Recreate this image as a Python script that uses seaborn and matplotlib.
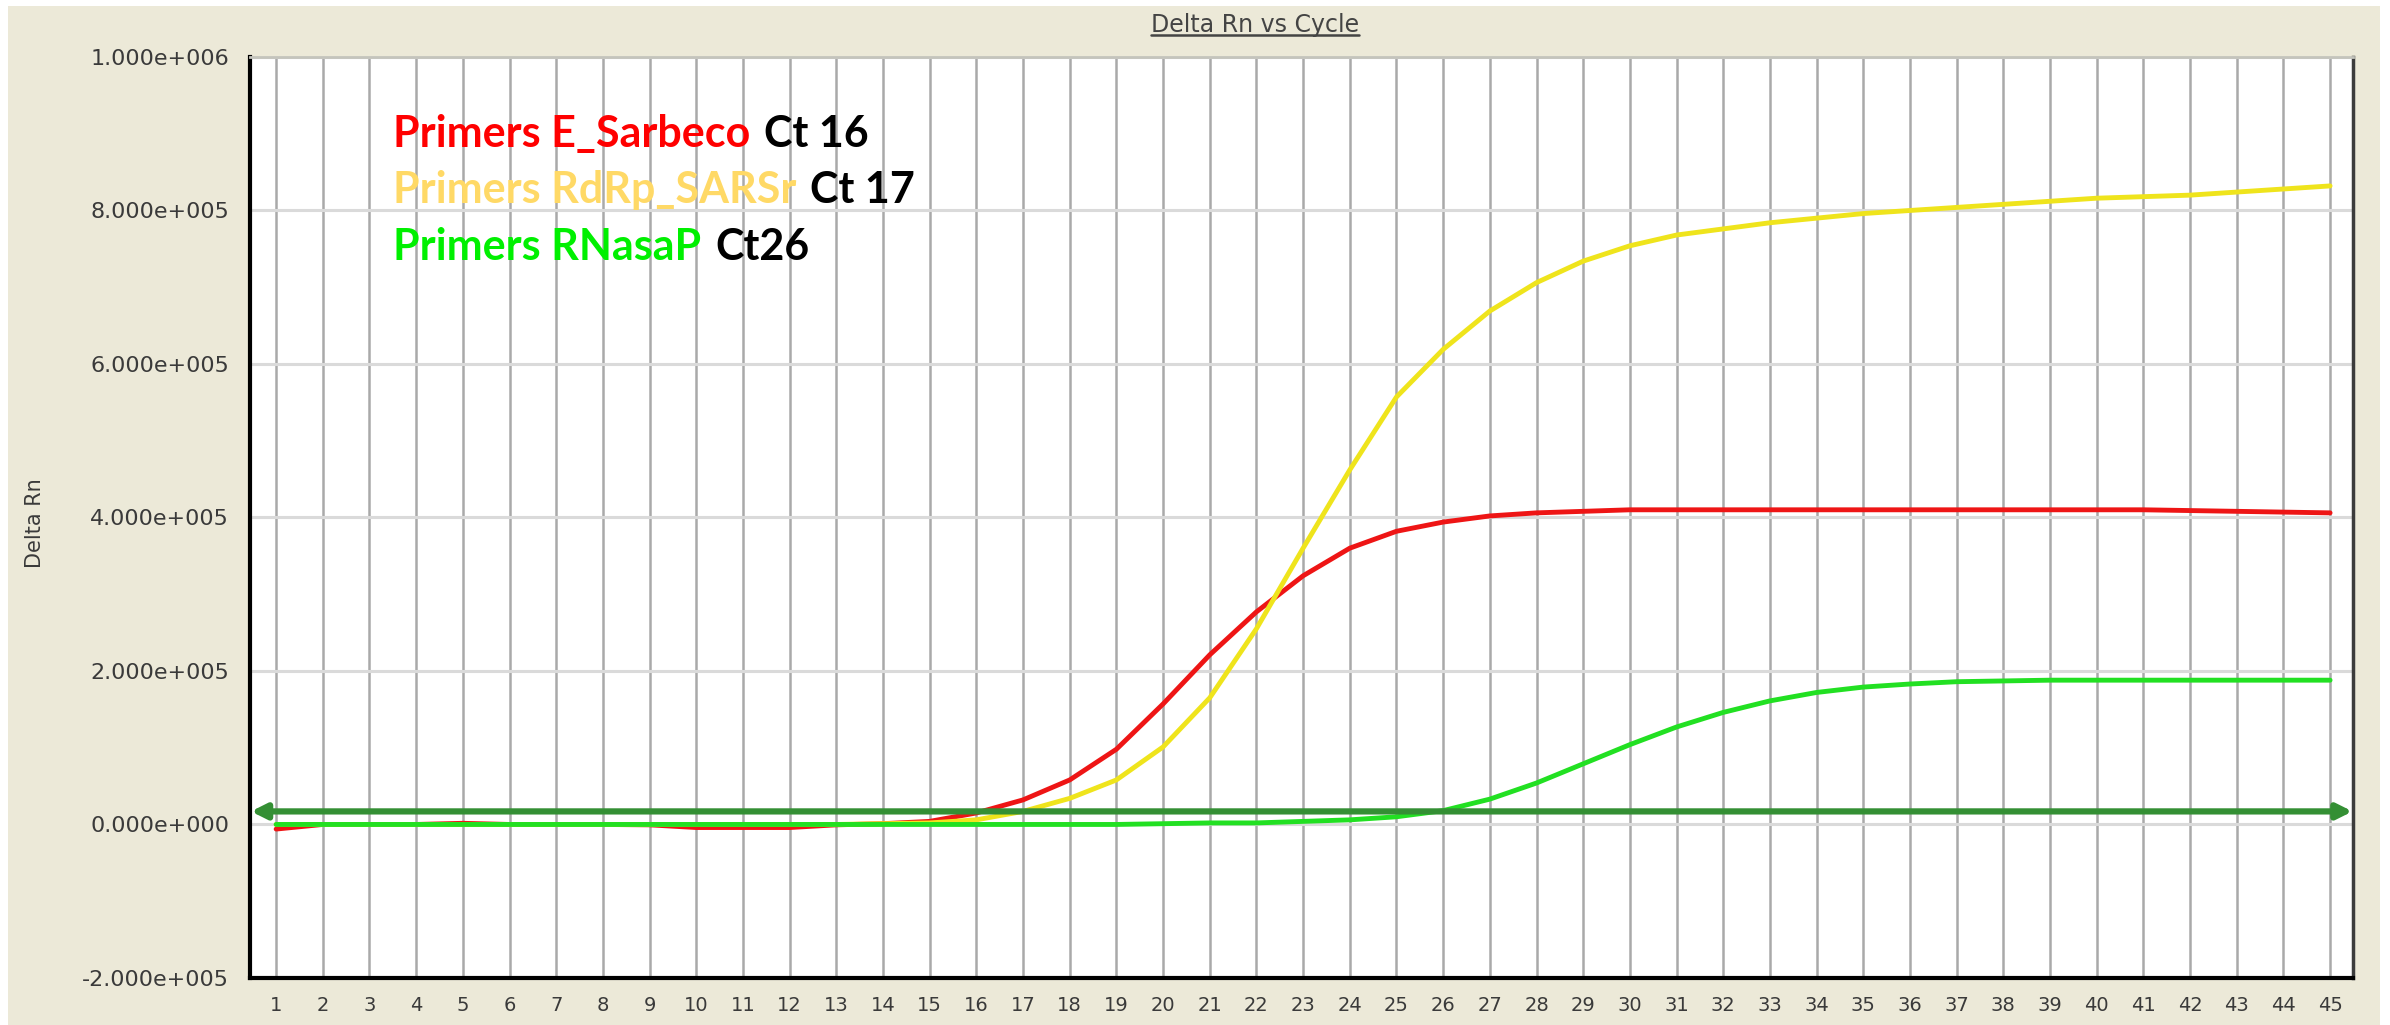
import numpy as np
import pandas as pd
import matplotlib
matplotlib.use("Agg")
import matplotlib.pyplot as plt
from matplotlib.patches import Rectangle
from matplotlib.lines import Line2D
from matplotlib.ticker import FuncFormatter
import seaborn as sns

# data
cycles = list(range(1, 46))
e_sarbeco = [-6000, 0, 0, 0, 1500, 0, 0, 0, -500, -4000, -4000, -4000, -500, 1000, 4000,
             15000, 32000, 58000, 98000, 157000, 221000, 277000, 324000, 360000, 382000,
             394000, 402000, 406000, 408000, 410000, 410000, 410000, 410000, 410000, 410000,
             410000, 410000, 410000, 410000, 410000, 410000, 409000, 408000, 407000, 406000]
rdrp_sarsr = [0, 0, 0, 0, 0, 0, 0, 0, 0, 0, 0, 0, 0, 1000, 2000,
              6000, 17000, 34000, 58000, 101000, 165000, 255000, 360000, 462000, 557000,
              619000, 669000, 706000, 734000, 754000, 768000, 776000, 784000, 790000, 796000,
              800000, 804000, 808000, 812000, 816000, 818000, 820000, 824000, 828000, 832000]
rnasap = [0, 0, 0, 0, 0, 0, 0, 0, 0, 0, 0, 0, 0, 0, 0,
          0, 0, 0, 0, 1000, 2000, 2000, 4000, 6000, 10000,
          18000, 33000, 54000, 79000, 104000, 127000, 146000, 161000, 172000, 179000,
          183000, 186000, 187000, 188000, 188000, 188000, 188000, 188000, 188000, 188000]
threshold = 17000

primers = ["E_Sarbeco", "RdRp_SARSr", "RNasaP"]
ct_labels = ["Ct 16", "Ct 17", "Ct26"]
y_ticks = [-200000, 0, 200000, 400000, 600000, 800000, 1000000]

curve_colors = {"E_Sarbeco": "#ee1515", "RdRp_SARSr": "#efe41c", "RNasaP": "#22e022"}
text_colors = ["#ff0000", "#ffd966", "#00f000"]


def sci_fmt(v, pos):
    s = f"{v:.3e}"
    mant, exp = s.split("e")
    sign = "-" if exp[0] == "-" else "+"
    return f"{mant}e{sign}{int(exp[1:]):03d}"


def main():
    df = pd.DataFrame({
        "cycle": cycles * 3,
        "delta_rn": e_sarbeco + rdrp_sarsr + rnasap,
        "primer": [p for p in primers for _ in cycles],
    })

    sns.set_style("white")
    fig = plt.figure(figsize=(23.9, 10.25), dpi=100)
    fig.patch.set_facecolor("white")
    fig.add_artist(Rectangle((8 / 2390, 0), 2372 / 2390, 1019 / 1025,
                             transform=fig.transFigure, facecolor="#ece9d8",
                             edgecolor="none", zorder=-10))

    ax = fig.add_axes([0.1046, 0.0459, 0.8799, 0.8985])
    ax.set_facecolor("white")

    sns.lineplot(data=df, x="cycle", y="delta_rn", hue="primer", hue_order=primers,
                 palette=curve_colors, linewidth=3.5, legend=False, ax=ax, zorder=3)

    # threshold with arrow heads at both ends
    ax.annotate("", xy=(0.46, threshold), xytext=(45.48, threshold),
                arrowprops=dict(arrowstyle="<|-|>", color="#348f34", lw=4.5,
                                mutation_scale=22, shrinkA=0, shrinkB=0), zorder=4)

    ax.set_xlim(0.44, 45.49)
    ax.set_ylim(-200000, 1000000)
    ax.set_xticks(cycles)
    ax.set_yticks(y_ticks)
    ax.yaxis.set_major_formatter(FuncFormatter(sci_fmt))
    ax.tick_params(axis="both", length=0, colors="#3a3a3a")
    ax.tick_params(axis="x", labelsize=14, pad=13)
    ax.tick_params(axis="y", labelsize=16, pad=15)
    ax.xaxis.grid(True, color="#a9a9a9", lw=1.8)
    ax.yaxis.grid(True, color="#dadada", lw=2.2)
    ax.set_axisbelow(True)

    for side, col, lw in [("left", "black", 3), ("bottom", "black", 3),
                          ("right", "#3c3c3c", 2.5), ("top", "#c4c4bc", 2)]:
        ax.spines[side].set_visible(True)
        ax.spines[side].set_color(col)
        ax.spines[side].set_linewidth(lw)

    ax.set_xlabel("")
    ax.set_ylabel("Delta Rn", fontsize=15, color="#3a3a3a", va="center", ha="center",
                  family=["Liberation Sans Narrow", "DejaVu Sans"])
    ax.yaxis.set_label_coords(-0.102, 0.494)

    # coloured primer labels with black Ct values
    y_pos = [0.902, 0.841, 0.780]
    for name, ct, col, yp in zip(primers, ct_labels, text_colors, y_pos):
        t = ax.text(0.068, yp, f"Primers {name}", transform=ax.transAxes, color=col,
                    fontsize=31, fontweight="bold", family=["Lato", "DejaVu Sans"],
                    va="baseline", ha="left", zorder=6)
        ax.annotate(ct, xy=(1, 0), xycoords=t, xytext=(10, 0), textcoords="offset points",
                    color="black", fontsize=31, fontweight="bold",
                    family=["Lato", "DejaVu Sans"], va="bottom", ha="left", zorder=6)

    title = fig.text(0.525, 0.976, "Delta Rn vs Cycle", ha="center", va="center",
                     fontsize=17, color="#444444")
    fig.canvas.draw()
    bb = title.get_window_extent().transformed(fig.transFigure.inverted())
    fig.add_artist(Line2D([bb.x0, bb.x1], [bb.y0 + 0.002, bb.y0 + 0.002],
                          transform=fig.transFigure, color="#444444", lw=1.8))

    fig.savefig("out.png", dpi=100, facecolor=fig.get_facecolor())


if __name__ == "__main__":
    main()
